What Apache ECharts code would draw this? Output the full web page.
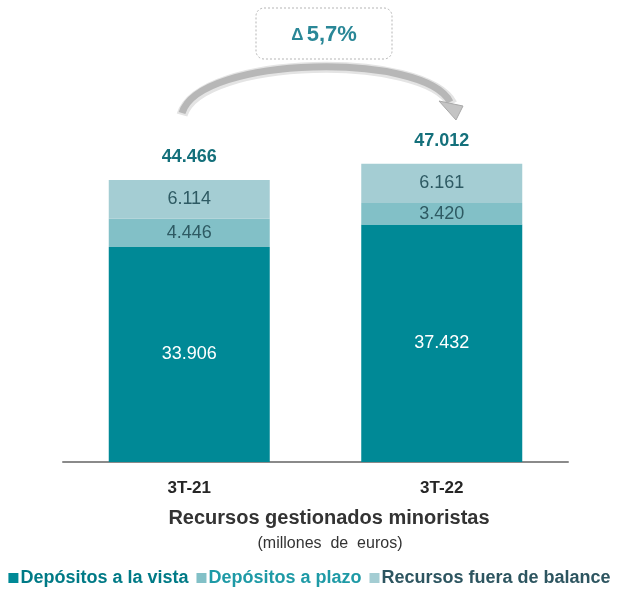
<!DOCTYPE html>
<html><head><meta charset="utf-8">
<script src="https://cdn.jsdelivr.net/npm/echarts@6/dist/echarts.min.js"></script>
<style>html,body{margin:0;padding:0;background:#fff}#c{width:619px;height:592px}</style>
</head><body><div id="c"></div>
<script>
var categories = ['3T-21', '3T-22'];
var depVista = [33906, 37432];
var depPlazo = [4446, 3420];
var fueraBalance = [6114, 6161];
var totals = [44466, 47012];
var seriesNames = ['Depósitos a la vista', 'Depósitos a plazo', 'Recursos fuera de balance'];
var changeLabel = '5,7%';

var NARROW = '"Liberation Sans Narrow","Arial Narrow","Liberation Sans",Arial,sans-serif';
function fmt(v){ return String(v).replace(/\B(?=(\d{3})+(?!\d))/g, '.'); }

var chart = echarts.init(document.getElementById('c'), null, {renderer:'canvas'});
var gridBottom = 592 - 462;
var maxV = 60000;
var pxPer = 282 / 44466;
var H = maxV * pxPer;
var option = {
  animation:false,
  grid:{left:63, right:619-568, top:462-H, bottom:gridBottom},
  xAxis:{type:'category', data:categories,
    axisLine:{lineStyle:{color:'#8a8a8a', width:2}}, axisTick:{show:false},
    axisLabel:{color:'#262626', fontFamily:NARROW, fontWeight:'bold', fontSize:17, margin:18}},
  yAxis:{type:'value', min:0, max:maxV, show:false, splitLine:{show:false}},
  legend:{bottom:0, left:'center', itemWidth:10, itemHeight:10, itemGap:8, icon:'rect',
    textStyle:{fontFamily:NARROW, fontWeight:'bold', fontSize:18, padding:[0,0,0,-3]},
    data:[
      {name:seriesNames[0], textStyle:{color:'#007a86'}},
      {name:seriesNames[1], textStyle:{color:'#1e9aa6'}},
      {name:seriesNames[2], textStyle:{color:'#2d5560'}}
    ]},
  series:[
    {name:seriesNames[0], type:'bar', stack:'a', data:depVista, barWidth:161,
     itemStyle:{color:'#008996'},
     label:{show:true, position:'inside', color:'#ffffff', fontFamily:NARROW, fontSize:18, formatter:function(p){return fmt(p.value);}}},
    {name:seriesNames[1], type:'bar', stack:'a', data:depPlazo,
     itemStyle:{color:'#82c0c7'},
     label:{show:true, position:'inside', color:'#2e5a63', fontFamily:NARROW, fontSize:18, formatter:function(p){return fmt(p.value);}}},
    {name:seriesNames[2], type:'bar', stack:'a', data:fueraBalance,
     itemStyle:{color:'#a4cdd3'},
     label:{show:true, position:'inside', color:'#2e5a63', fontFamily:NARROW, fontSize:18, formatter:function(p){return fmt(p.value);}}},
    {name:'total', type:'bar', stack:'a', data:totals.map(function(){return 0;}),
     itemStyle:{color:'transparent'},
     label:{show:true, position:'top', distance:14, color:'#14707b', fontFamily:NARROW, fontWeight:'bold', fontSize:18,
       formatter:function(p){return fmt(totals[p.dataIndex]);}}}
  ],
  graphic:[
    {type:'rect', shape:{x:256, y:8, width:136, height:51, r:8},
     style:{fill:'#ffffff', stroke:'#b5b5b5', lineWidth:1, lineDash:[2,2]}},
    {type:'text', x:324, y:35, style:{text:'{d|\u0394} {v|' + changeLabel + '}', align:'center', verticalAlign:'middle',
      rich:{d:{fill:'#2a8797', font:'bold 17px "Liberation Sans",Arial,sans-serif'},
            v:{fill:'#2a8797', font:'bold 22px "Liberation Sans",Arial,sans-serif'}}}},
    {type:'bezierCurve', shape:{x1:182, y1:115, cpx1:200, cpy1:55, cpx2:425, cpy2:52, x2:452, y2:104},
     style:{stroke:'#e4e4e4', lineWidth:11, fill:null}, z:10},
    {type:'bezierCurve', shape:{x1:182, y1:113, cpx1:200, cpy1:55, cpx2:425, cpy2:52, x2:450, y2:102},
     style:{stroke:'#b7b7b7', lineWidth:7, fill:null}, z:11},
    {type:'polygon', shape:{points:[[439,101],[463,106],[456,120]]},
     style:{fill:'#c4c4c4', stroke:'#a8a8a8', lineWidth:1}, z:12},
    {type:'text', x:329, y:518, style:{text:'Recursos gestionados minoristas', fill:'#333333', font:'bold 20px '+NARROW, align:'center', verticalAlign:'middle'}},
    {type:'text', x:330, y:544, style:{text:'(millones  de  euros)', fill:'#333333', font:'16px '+NARROW, align:'center', verticalAlign:'middle'}}
  ]
};
chart.setOption(option);
</script></body></html>
